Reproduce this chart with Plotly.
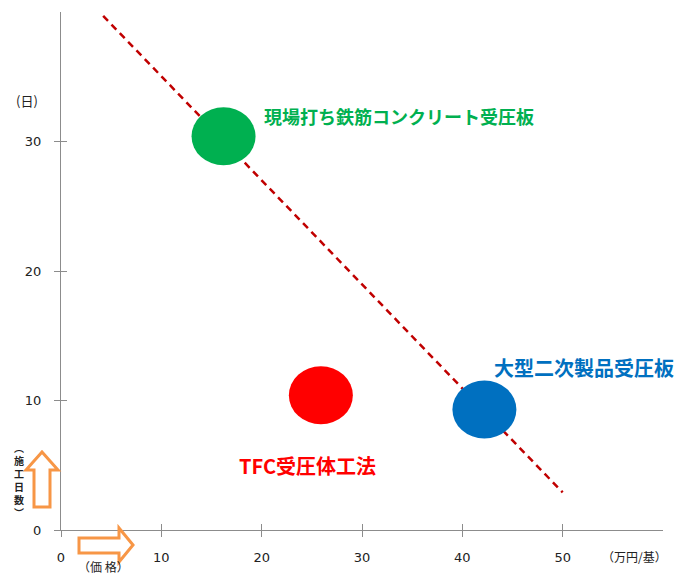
import plotly.graph_objects as go

# ---- data ----
methods = ["現場打ち鉄筋コンクリート受圧板", "TFC受圧体工法", "大型二次製品受圧板"]
price = [16.2, 25.9, 42.2]          # 万円/基
days = [30.4, 10.4, 9.3]            # 日
colors = ["#00B050", "#FF0000", "#0070C0"]
label_dx = [38, -84, 8]             # label offsets (px) from point
label_dy = [20, -70, 42]
label_size = [18, 20, 20]

trend_x = [4.2, 50.0]
trend_y = [39.7, 2.9]

x_ticks = [0, 10, 20, 30, 40, 50]
y_ticks = [0, 10, 20, 30]

y_title_chars = ["︵", "施", "工", "日", "数", "︶"]

W, H = 676, 574
ML, MR, MT, MB = 61, 13, 12, 44
PW, PH = W - ML - MR, H - MT - MB


def px(xp):
    return (xp - ML) / PW


def py(yp):
    return (H - MB - yp) / PH


CJK = "Noto Sans CJK JP"
fig = go.Figure()

fig.add_trace(go.Scatter(
    x=trend_x, y=trend_y, mode="lines",
    line=dict(color="#C00000", width=2.5, dash="7px,5px"),
    hoverinfo="skip", showlegend=False))

fig.add_trace(go.Scatter(
    x=price, y=days, mode="markers", marker=dict(size=1, opacity=0),
    text=methods, showlegend=False))

shapes = []
for xv, yv, c in zip(price, days, colors):
    shapes.append(dict(type="circle", xref="x", yref="y",
                       xsizemode="pixel", ysizemode="pixel",
                       xanchor=xv, yanchor=yv,
                       x0=-32, x1=32, y0=-29, y1=29,
                       fillcolor=c, line=dict(width=0)))

orange = "#F79646"
# up arrow (y axis hint)
up = [(42, 452), (58, 470), (50, 470), (50, 507), (34, 507), (34, 470), (26, 470)]
path = "M " + " L ".join(f"{px(a)},{py(b)}" for a, b in up) + " Z"
shapes.append(dict(type="path", xref="paper", yref="paper", path=path,
                   fillcolor="white", line=dict(color=orange, width=3)))
# right arrow (x axis hint)
rt = [(133, 545), (119, 528), (119, 538), (79, 538), (79, 553), (119, 553), (119, 562)]
path = "M " + " L ".join(f"{px(a)},{py(b)}" for a, b in rt) + " Z"
shapes.append(dict(type="path", xref="paper", yref="paper", path=path,
                   fillcolor="white", line=dict(color=orange, width=3)))

annotations = []
for m, xv, yv, c, dx, dy, fs in zip(methods, price, days, colors, label_dx, label_dy, label_size):
    annotations.append(dict(x=xv, y=yv, xref="x", yref="y", text=m, showarrow=False,
                            xanchor="left", yanchor="middle", xshift=dx, yshift=dy,
                            font=dict(family=CJK, size=fs, color=c, weight="bold")))


def note(x, y, text, size=12, weight="normal"):
    return dict(x=px(x), y=py(y), xref="paper", yref="paper", text=text, showarrow=False,
                xanchor="center", yanchor="middle", borderpad=0,
                font=dict(family=CJK, size=size, color="#222", weight=weight))


annotations += [
    note(19, 480, "<br>".join(y_title_chars), 10, "bold"),
    note(27, 100, "(日)", 13),
    note(103, 566, "（価 格）", 12),
    note(634, 556, "（万円/基）", 12),
]

axis_common = dict(showgrid=False, zeroline=False, showline=True, linecolor="#8c8c8c",
                   linewidth=1, ticks="outside", ticklen=6, tickcolor="#8c8c8c",
                   automargin=False,
                   tickfont=dict(family="DejaVu Sans", size=13, color="#222"))

fig.update_layout(
    width=W, height=H, margin=dict(l=ML, r=MR, t=MT, b=MB, autoexpand=False),
    plot_bgcolor="white", paper_bgcolor="white",
    xaxis=dict(range=[0, 60], tickvals=x_ticks, ticklabelstandoff=9, **axis_common),
    yaxis=dict(range=[0, 40], tickvals=y_ticks, ticklabelstandoff=10, **axis_common),
    xaxis2=dict(range=[0, 60], tickvals=x_ticks, overlaying="x", showticklabels=False,
                ticks="inside", ticklen=6, tickcolor="#8c8c8c", showgrid=False,
                zeroline=False, showline=False, automargin=False),
    yaxis2=dict(range=[0, 40], tickvals=y_ticks, overlaying="y", showticklabels=False,
                ticks="inside", ticklen=6, tickcolor="#8c8c8c", showgrid=False,
                zeroline=False, showline=False, automargin=False),
    shapes=shapes, annotations=annotations, showlegend=False,
)
fig.add_trace(go.Scatter(x=[0], y=[0], xaxis="x2", yaxis="y2", mode="markers",
                         marker=dict(opacity=0), hoverinfo="skip", showlegend=False))

fig.write_html("out.html")
